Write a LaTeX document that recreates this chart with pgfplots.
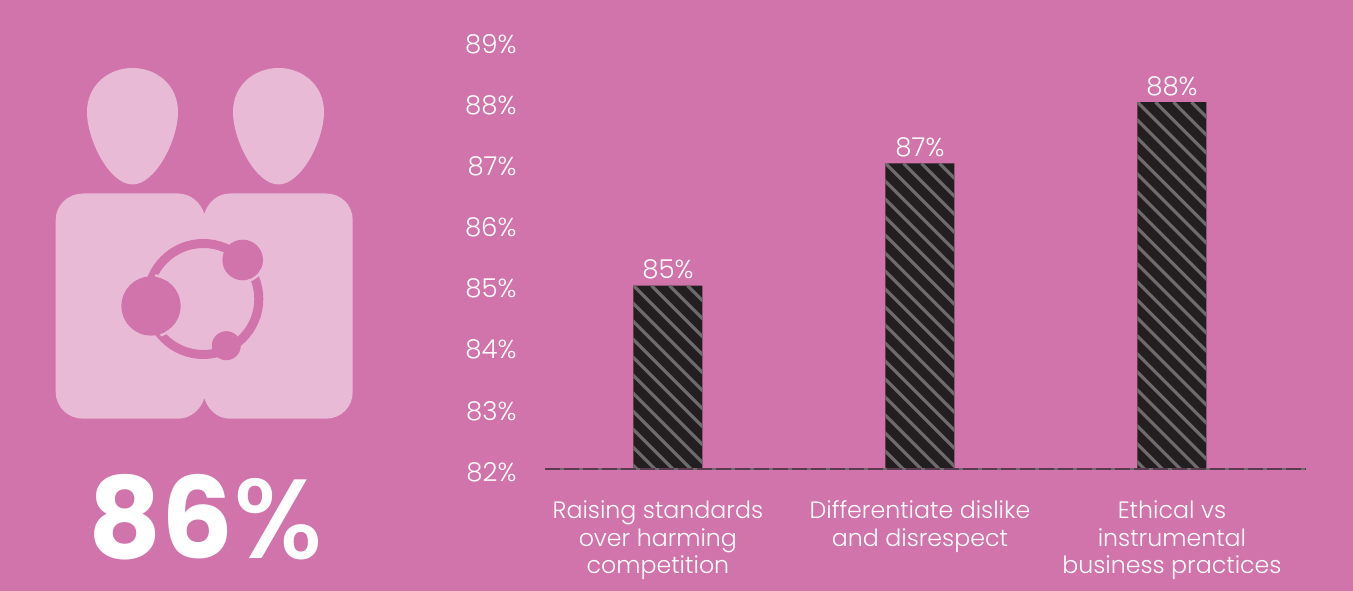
\documentclass[border=0pt]{standalone}
\usepackage{fontspec}
\setmainfont{Poppins Light}
\newfontfamily\bigfont{Poppins}[UprightFont=*-Bold]
\newfontfamily\pctfont{Poppins}[UprightFont=*-Medium]
\usepackage{pgfplots}
\pgfplotsset{compat=1.18}
\usetikzlibrary{calc}
\definecolor{bg}{HTML}{D174AB}
\definecolor{iconlight}{HTML}{E8BAD6}
\definecolor{bardark}{HTML}{231F20}
\definecolor{stripe}{HTML}{6E6B6C}
\definecolor{baseln}{HTML}{5A3A50}

% stripes over one bar: #1 = category position, #2 = bar value
\newcommand*{\BarStripes}[2]{%
  \pgfplotsextra{%
    \begin{scope}
      \clip (axis cs:#1-0.1369,82) rectangle (axis cs:#1+0.1369,#2);
      \foreach \k in {-24,...,5}{
        \draw[stripe,line width=3.2pt]
          ($(axis cs:#1-0.1369,#2)+(\k*18pt,0pt)$) -- +(430pt,-430pt);
      }
    \end{scope}%
  }%
}

\begin{document}
\begin{tikzpicture}[x=1pt,y=1pt]
  % everything in pixels, y counted up from the bottom of the reference
  \useasboundingbox (0,0) rectangle (1353,591);
  \fill[bg] (0,0) rectangle (1353,591);

  % heads
  \foreach \cx in {132.5,278.5}{
    \fill[iconlight] (\cx,406.5)
      .. controls (\cx-23,406.5) and (\cx-45.5,451) .. (\cx-45.5,479)
      .. controls (\cx-45.5,506) and (\cx-24,523) .. (\cx,523)
      .. controls (\cx+24,523) and (\cx+45.5,506) .. (\cx+45.5,479)
      .. controls (\cx+45.5,451) and (\cx+23,406.5) .. (\cx,406.5) -- cycle;
  }
  % bodies
  \fill[iconlight] (83,397.5) -- (178,397.5)
    .. controls (191,397.5) and (201,388) .. (204.3,377)
    .. controls (207.5,388) and (217,397.5) .. (230,397.5)
    -- (326,397.5)
    .. controls (341,397.5) and (352.7,386) .. (352.7,371)
    -- (352.7,199)
    .. controls (352.7,184) and (341,172.3) .. (326,172.3)
    -- (230,172.3)
    .. controls (217,172.3) and (207.5,182) .. (204.3,193)
    .. controls (201,182) and (191,172.3) .. (178,172.3)
    -- (83,172.3)
    .. controls (68,172.3) and (55.7,184) .. (55.7,199)
    -- (55.7,371)
    .. controls (55.7,386) and (68,397.5) .. (83,397.5) -- cycle;
  % ring and dots
  \draw[bg,line width=9] (203.3,292) circle (55.5);
  \fill[bg] (151,285) circle (29.6);
  \fill[bg] (242.7,331) circle (20.3);
  \fill[bg] (226.3,245.3) circle (14.5);
  % small gaps where the ring meets the dots
  \draw[iconlight,line width=2.4] (242.7,331) ++(-75:21.6) arc (-75:-25:21.6);
  \draw[iconlight,line width=2.4] (151,285) ++(60:30.9) arc (60:82:30.9);
  \draw[iconlight,line width=2.4] (151,285) ++(-72:30.9) arc (-72:-48:30.9);

  \node[text=white,inner sep=0pt] at (206,74)
    {\fontsize{113}{113}\selectfont\bigfont 86\pctfont\%};

  \begin{axis}[
    at={(545pt,122pt)}, anchor=south west,
    scale only axis,
    width=761pt, height=428pt,
    ymin=82, ymax=89,
    xmin=-0.488, xmax=2.532,
    ybar, bar width=69pt,
    axis line style={draw=none},
    major tick length=0pt,
    ytick={82,83,...,89},
    yticklabel={\pgfmathprintnumber{\tick}\%},
    /pgf/number format/assume math mode=true,
    xtick={-0.04,1,2},
    xticklabels={{Raising standards\\over harming\\competition},{Differentiate dislike\\and disrespect},{Ethical vs\\instrumental\\business practices}},
    yticklabel style={text=white,font=\fontsize{26}{28}\selectfont,anchor=east,xshift=-25pt,yshift=-3pt},
    xticklabel style={text=white,font=\fontsize{23.7}{27.5}\selectfont,align=center,anchor=north,yshift=-28.5pt},
    nodes near coords={\pgfmathprintnumber{\pgfplotspointmeta}\%},
    every node near coord/.append style={text=white,font=\fontsize{26}{28}\selectfont,/pgf/number format/assume math mode=true,yshift=2.5pt},
    clip=false,
  ]
    \addplot[fill=bardark,draw=none] coordinates {(0,85) (1,87) (2,88)};
    \BarStripes{0}{85}
    \BarStripes{1}{87}
    \BarStripes{2}{88}
    \addplot[sharp plot,no marks,nodes near coords={},stripe,line width=1.6pt,forget plot] coordinates {(-0.488,82) (2.532,82)};
    \addplot[sharp plot,no marks,nodes near coords={},baseln,line width=1.6pt,dash pattern=on 15pt off 4pt,forget plot] coordinates {(-0.488,82) (2.532,82)};
  \end{axis}
\end{tikzpicture}
\end{document}
